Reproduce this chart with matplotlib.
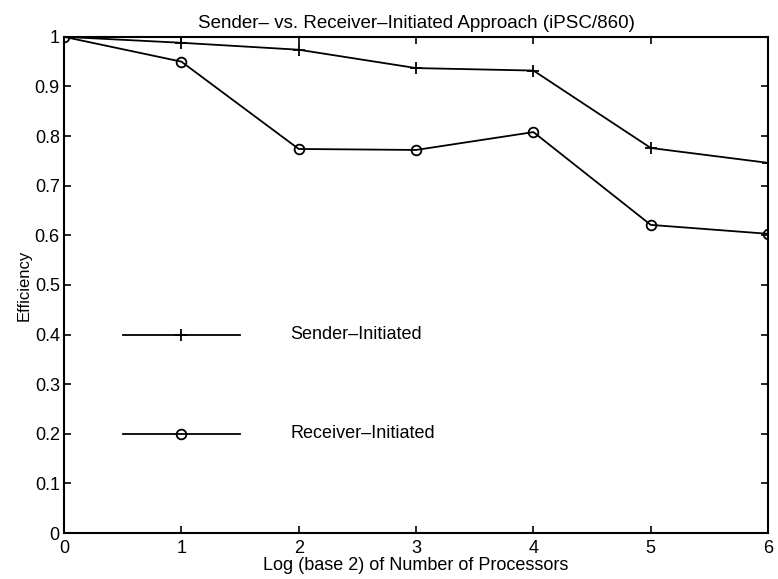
import matplotlib
matplotlib.use("Agg")
import matplotlib.pyplot as plt

# Efficiency vs. log2 of processor count on the iPSC/860
log_procs = [0, 1, 2, 3, 4, 5, 6]
sender_eff = [1.0, 0.988, 0.974, 0.937, 0.932, 0.776, 0.746]
receiver_eff = [1.0, 0.950, 0.774, 0.772, 0.808, 0.621, 0.603]

x_ticks = [0, 1, 2, 3, 4, 5, 6]
y_ticks = [0, 0.1, 0.2, 0.3, 0.4, 0.5, 0.6, 0.7, 0.8, 0.9, 1]
y_labels = ["0", "0.1", "0.2", "0.3", "0.4", "0.5", "0.6", "0.7", "0.8", "0.9", "1"]

plt.rcParams["font.family"] = ["Liberation Sans", "DejaVu Sans"]

fig = plt.figure(figsize=(7.78, 5.79), dpi=100)
ax = fig.add_axes([0.0823, 0.0794, 0.905, 0.857])

line_kw = dict(color="black", linewidth=1.3)
ax.plot(log_procs, sender_eff, marker="+", markersize=8, markeredgewidth=1.3, **line_kw)
ax.plot(log_procs, receiver_eff, marker="o", markersize=7, markerfacecolor="none",
        markeredgewidth=1.3, **line_kw)

# hand-placed key inside the plot, MATLAB style
ax.plot([0.5, 1.5], [0.4, 0.4], **line_kw)
ax.plot([1.0], [0.4], marker="+", markersize=8, markeredgewidth=1.3, color="black")
ax.text(1.93, 0.4, "Sender\u2013Initiated", fontsize=13, va="center")
ax.plot([0.5, 1.5], [0.2, 0.2], **line_kw)
ax.plot([1.0], [0.2], marker="o", markersize=7, markerfacecolor="none",
        markeredgewidth=1.3, color="black")
ax.text(1.93, 0.2, "Receiver\u2013Initiated", fontsize=13, va="center")

ax.set_xlim(0, 6)
ax.set_ylim(0, 1)
ax.set_xticks(x_ticks)
ax.set_yticks(y_ticks)
ax.set_yticklabels(y_labels)
ax.tick_params(direction="in", top=True, right=True, length=5, width=1.2,
               labelsize=13)
ax.tick_params(axis="y", pad=3)
ax.tick_params(axis="x", pad=5)
for s in ax.spines.values():
    s.set_linewidth(1.5)

ax.set_title("Sender\u2013 vs. Receiver\u2013Initiated Approach (iPSC/860)", fontsize=13.5, pad=6)
ax.set_xlabel("Log (base 2) of Number of Processors", fontsize=13, labelpad=0)
ax.set_ylabel("Efficiency", fontsize=12, labelpad=2)

fig.savefig("out.png", dpi=100)
